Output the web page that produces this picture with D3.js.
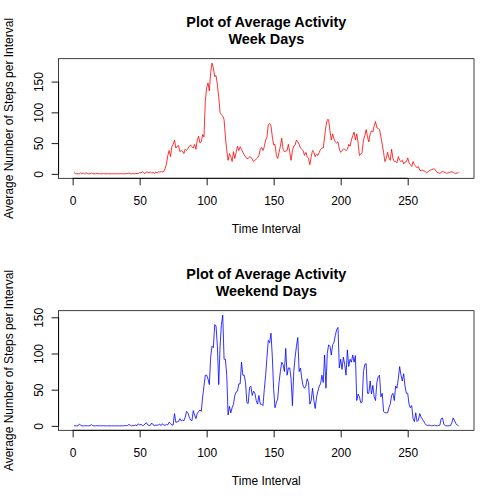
<!DOCTYPE html>
<html>
<head>
<meta charset="utf-8">
<script src="https://cdn.jsdelivr.net/npm/d3@7"></script>
<style>
  body { margin: 0; background: #fff; }
  svg text { font-family: "Liberation Sans", Arial, Helvetica, sans-serif; fill: #000; }
</style>
</head>
<body>
<div id="chart"></div>
<script>
// average steps per 5 minute interval, weekday series (index 1..288)
var weekDays = [
  2.3,0.5,0.2,0.2,0.1,1.6,0.7,1.2,0,1.8,
  0.4,0,0.2,1.4,0.3,0.2,0,1.1,0.2,0.3,
  0,0.1,0.4,0.2,0,0.5,0,0.2,0.1,0,
  0.2,0.3,0,0.1,0,0.4,0,0.2,0,0.5,
  0.8,1.3,0.2,0,0.5,0,1.2,0.3,0.6,2.1,
  1.5,3.5,2.1,0.5,3.2,2.8,1.4,3.3,1.0,2.5,
  0.8,2.9,1.5,3.2,3.1,3.5,3.3,4.0,8.5,16,
  30,38,28,44,48,55,42,45,46,36,
  38,37,33,40,38,41,45,47,44,42,
  48,40,55,61,50,52,64,60,118,140,
  148,135,165,180,172,158,160,145,125,100,
  96,94,88,60,38,22,33,28,20,36,
  25,35,45,38,44,40,35,31,28,25,
  25,28,27,24,20,22,24,26,30,40,
  43,38,44,55,60,80,82,78,60,47,
  48,30,25,35,45,58,40,36,37,38,
  48,35,22,38,45,47,55,52,48,42,
  40,38,30,35,28,25,15,28,38,35,
  28,32,30,35,40,42,42,60,78,88,
  88,70,55,65,57,52,50,52,40,35,
  38,40,40,38,40,48,45,55,62,68,
  55,65,50,30,32,35,55,62,72,60,
  52,65,70,68,78,85,75,74,72,60,
  48,35,20,25,35,26,22,40,25,20,
  20,18,28,22,20,22,16,19,20,26,
  18,15,12,20,15,12,10,12,6,5,
  6,5,4,2,3,5,6,7,8,8,
  5,2,1.5,1,2.5,4,3,2,1,1.5,
  2,3,3.5,2.5,1,1,1.5,2
];

// weekend series (index 1..288)
var weekendDays = [
  0.2,0,0,0.1,2.5,1.0,0,0,0.1,0.2,
  0,0,0.5,1.8,0.3,0,0,0.4,0,0.2,
  0.1,0,0.3,0,0,0,0.1,0,0,0,
  0,0.1,0,0,0,0,0.2,0,0.5,0.3,
  0.6,2.0,0.8,0,0.5,0.3,1.2,0.2,3.0,1.0,
  2.2,0.5,0.8,2.5,4.5,1.5,0.5,0.8,4.0,1.5,
  0.5,1.0,0.8,1.5,2.2,0.5,3.0,1.0,0.8,2.0,
  1.5,5.0,3.5,1.0,1.2,17,5,5.5,6,10,
  7,8,7,12,20,18,12,8,7,21,
  15,10,17,20,22,20,40,55,70,70,
  65,57,95,110,108,140,138,110,57,110,
  140,153,92,92,70,15,27,18,25,30,
  42,47,48,58,58,88,70,70,60,32,
  31,53,55,42,48,45,35,30,42,30,
  30,28,50,70,95,118,115,128,95,50,
  25,32,37,60,75,88,85,75,107,70,
  80,80,65,28,75,95,110,122,75,80,
  65,55,52,55,65,60,30,35,52,35,
  24,40,48,55,58,70,60,98,52,100,
  112,110,98,112,115,125,133,136,80,92,
  78,95,85,70,105,82,92,88,98,88,
  97,35,44,40,32,33,75,85,86,45,
  45,62,44,56,40,35,60,68,70,40,
  45,20,18,18,18,25,30,42,45,35,
  55,52,65,82,70,62,72,55,45,45,
  30,25,28,10,6,18,6,8,17,12,
  9,6,3,1,0.5,1,0.5,0,0.3,1,
  0.2,0,0.5,1,10,11,2,0.5,0,0,
  0.2,0.5,5,11,7,3,1,0
];

var xTicks = [0, 50, 100, 150, 200, 250],
    yTicks = [0, 50, 100, 150];

var panels = [
  { sub: "Week Days",    values: weekDays,    color: "red"  },
  { sub: "Weekend Days", values: weekendDays, color: "blue" }
];

// overall canvas and plot region inside each panel
var width = 504, panelH = 252,
    box = { left: 58.6, right: 474, top: 58.7, bottom: 178.3 };

var svg = d3.select("#chart").append("svg")
    .attr("width", width)
    .attr("height", panelH * 2);

// R style axis padding: 4% on each side of the data range
function padded(ext) {
  var d = (ext[1] - ext[0]) * 0.04;
  return [ext[0] - d, ext[1] + d];
}

panels.forEach(function (p, k) {
  var g = svg.append("g").attr("transform", "translate(0," + (k * panelH) + ")");

  var pts = p.values.map(function (v, i) { return { x: i + 1, y: v }; });

  var xScale = d3.scaleLinear()
      .domain(padded(d3.extent(pts, function (d) { return d.x; })))
      .range([box.left, box.right]);
  var yScale = d3.scaleLinear()
      .domain(padded(d3.extent(pts, function (d) { return d.y; })))
      .range([box.bottom, box.top]);

  // data line
  var line = d3.line()
      .x(function (d) { return xScale(d.x); })
      .y(function (d) { return yScale(d.y); });

  g.append("path")
      .datum(pts)
      .attr("d", line)
      .attr("fill", "none")
      .attr("stroke", p.color)
      .attr("stroke-width", 0.8);

  // frame
  g.append("rect")
      .attr("x", box.left).attr("y", box.top)
      .attr("width", box.right - box.left)
      .attr("height", box.bottom - box.top)
      .attr("fill", "none")
      .attr("stroke", "#000")
      .attr("stroke-width", 0.75);

  // x axis
  var xAxis = d3.axisBottom(xScale).tickValues(xTicks).tickSize(7).tickSizeOuter(0).tickPadding(0);
  var xAxisEl = g.append("g")
      .attr("transform", "translate(0," + box.bottom + ")")
      .call(xAxis);
  xAxisEl.select(".domain")
      .attr("d", "M" + xScale(xTicks[0]) + ",0H" + xScale(xTicks[xTicks.length - 1]));
  xAxisEl.selectAll(".tick text")
      .attr("y", 26.7).attr("dy", null)
      .style("font-size", "12px");

  // y axis with rotated labels
  var yAxis = d3.axisLeft(yScale).tickValues(yTicks).tickSize(7).tickSizeOuter(0);
  var yAxisEl = g.append("g")
      .attr("transform", "translate(" + box.left + ",0)")
      .call(yAxis);
  yAxisEl.select(".domain")
      .attr("d", "M0," + yScale(yTicks[0]) + "V" + yScale(yTicks[yTicks.length - 1]));
  yAxisEl.selectAll(".tick text")
      .attr("x", null).attr("dy", null)
      .attr("transform", "translate(-15.6,0) rotate(-90)")
      .attr("text-anchor", "middle")
      .style("font-size", "12px");
  svg.selectAll(".domain, .tick line").attr("stroke", "#000").attr("stroke-width", 0.9);

  // titles
  var cx = (box.left + box.right) / 2;
  g.append("text")
      .attr("x", cx).attr("y", 27)
      .attr("text-anchor", "middle")
      .style("font-size", "14.4px").style("font-weight", "bold")
      .text("Plot of Average Activity");
  g.append("text")
      .attr("x", cx).attr("y", 43.6)
      .attr("text-anchor", "middle")
      .style("font-size", "14.4px").style("font-weight", "bold")
      .text(p.sub);

  g.append("text")
      .attr("x", cx).attr("y", 233.3)
      .attr("text-anchor", "middle")
      .style("font-size", "12px")
      .text("Time Interval");

  g.append("text")
      .attr("transform", "translate(13," + ((box.top + box.bottom) / 2) + ") rotate(-90)")
      .attr("text-anchor", "middle")
      .style("font-size", "12px")
      .text("Average Number of Steps per Interval");
});
</script>
</body>
</html>
